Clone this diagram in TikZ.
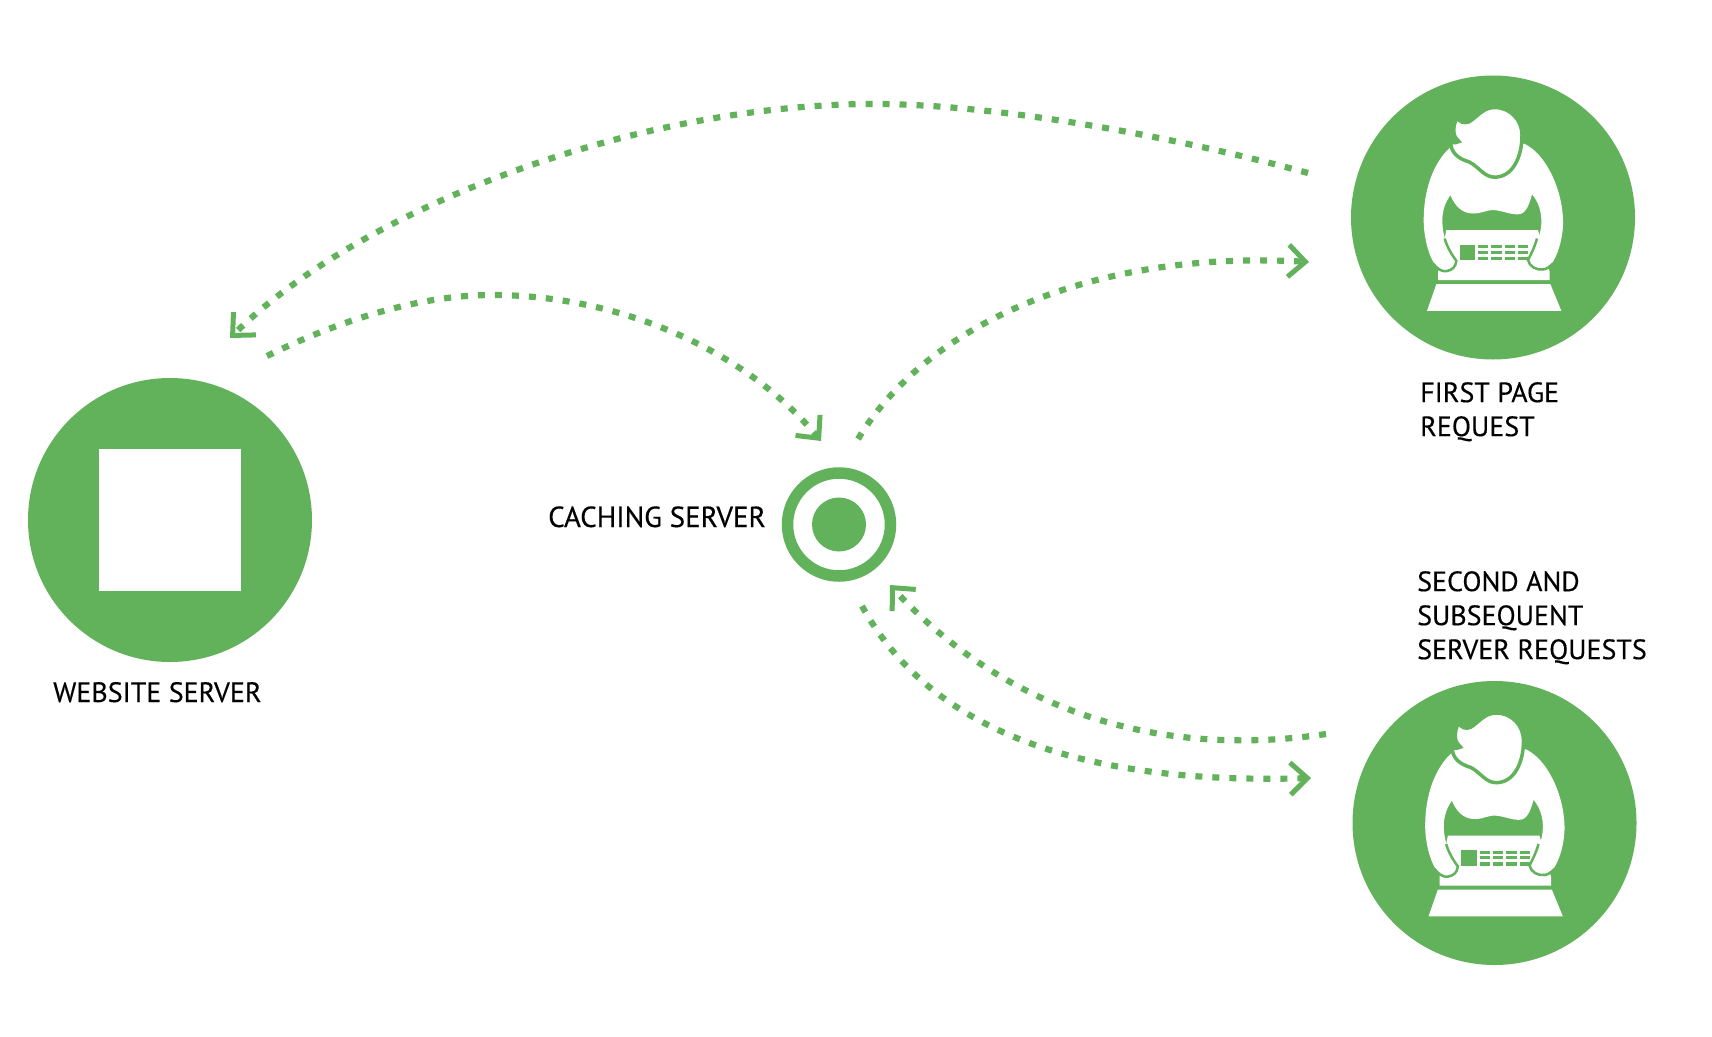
\documentclass[tikz,border=0pt]{standalone}
\usepackage{fontspec}
\setmainfont{PT Sans}
\usetikzlibrary{arrows.meta}
\definecolor{leaf}{RGB}{98,178,92}
\tikzset{
  x=1pt,y=-1pt,
  disc/.style={circle,fill=leaf,draw=none,inner sep=0pt,minimum size=284pt},
  whitebox/.style={rectangle,fill=white,draw=none,inner sep=0pt,minimum size=142pt},
  ring/.style={circle,draw=leaf,line width=11.5pt,fill=white,inner sep=0pt,minimum size=103pt,outer sep=0pt},
  core/.style={circle,fill=leaf,draw=none,inner sep=0pt,minimum size=54pt},
  caption/.style={font=\fontsize{28}{34}\selectfont\addfontfeature{FakeBold=0.35},inner sep=0pt,align=left,text=black},
  flow/.style={draw=leaf,line width=6.2pt,dash pattern=on 7pt off 10pt,
    -{Straight Barb[length=17pt,width=32pt,line width=5pt,color=leaf]}},
  person/.pic={
    \begin{scope}[scale=1/3,shift={(-520,-502)}]
      % laptop
      \fill[white] (380,540) -- (655,540) -- (690,665) -- (690,690) -- (355,690) -- (355,665) -- cycle;
      \fill[white] (350,702) -- (692,702) -- (725,782) -- (322,782) -- cycle;
      \fill[leaf] (420,583) rectangle (466,630);
      \foreach \cx in {475,515,555,595} {
        \fill[leaf] (\cx,585) rectangle ++(31,9);
        \fill[leaf] (\cx,602) rectangle ++(31,9);
        \fill[leaf] (\cx,620) rectangle ++(31,10);
      }
      % torso, arms and hands
      \fill[white]
        (390,293) .. controls (340,340) and (312,420) .. (312,510)
        .. controls (312,570) and (335,665) .. (380,663)
        .. controls (398,660) and (408,650) .. (410,632)
        .. controls (385,600) and (368,560) .. (368,510)
        .. controls (368,480) and (378,455) .. (392,435)
        .. controls (405,465) and (425,490) .. (460,490)
        .. controls (490,490) and (500,478) .. (525,480)
        .. controls (550,482) and (575,495) .. (600,492)
        .. controls (620,488) and (630,460) .. (637,432)
        .. controls (655,455) and (666,480) .. (665,520)
        .. controls (664,560) and (640,600) .. (625,630)
        .. controls (630,650) and (650,660) .. (670,658)
        .. controls (705,655) and (732,570) .. (730,510)
        .. controls (728,420) and (680,310) .. (612,280)
        -- cycle;
      % outlines of the hands on the laptop
      \draw[leaf,line width=2.5pt]
        (340,640) .. controls (352,655) and (365,665) .. (380,663)
        .. controls (398,660) and (408,650) .. (410,632)
        .. controls (395,612) and (382,590) .. (375,565);
      \draw[leaf,line width=2.5pt]
        (652,565) .. controls (645,590) and (635,610) .. (625,630)
        .. controls (630,650) and (650,660) .. (670,658)
        .. controls (680,657) and (690,650) .. (700,640);
      % head and hair
      \filldraw[fill=white,draw=leaf,line width=3.5pt]
        (412,201) .. controls (420,218) and (435,220) .. (448,215)
        .. controls (473,200) and (490,172) .. (525,172)
        .. controls (574,172) and (607,212) .. (607,255)
        .. controls (607,322) and (578,381) .. (525,381)
        .. controls (493,381) and (478,350) .. (448,335)
        .. controls (416,326) and (393,307) .. (393,276)
        .. controls (406,279) and (412,277) .. (418,274)
        .. controls (402,262) and (395,238) .. (412,201)
        -- cycle;
    \end{scope}
  }
}
\begin{document}
\begin{tikzpicture}
\useasboundingbox (0,0) rectangle (1712,1036);
% main shapes
\node[disc] (web) at (170,520) {};
\node[whitebox] (webicon) at (170,520) {};
\node[disc] (first) at (1493,217.5) {};
\pic at (1493,217.5) {person};
\node[disc] (second) at (1494.5,823) {};
\pic at (1494.5,823) {person};
\node[ring] (cache) at (839,524.5) {};
\node[core] (cachecore) at (839,524.5) {};
% captions
\node[caption,anchor=base west] (weblabel) at (53,702) {WEBSITE SERVER};
\node[caption,anchor=base west,font=\fontsize{29}{34}\selectfont\addfontfeature{FakeBold=0.35}] (cachelabel) at (548,527) {CACHING SERVER};
\node[caption,anchor=north west] (firstlabel) at (1420,382) {FIRST PAGE\\REQUEST};
\node[caption,anchor=north west] (secondlabel) at (1417,571) {SECOND AND\\SUBSEQUENT\\SERVER REQUESTS};
% connector ends
\coordinate (aS) at (1308,173); \coordinate (aM) at (874,104); \coordinate (aE) at (230,338);
\coordinate (bS) at (267,356);  \coordinate (bM) at (492,295); \coordinate (bE) at (821,441);
\coordinate (cS) at (858,439);  \coordinate (cE) at (1309,262);
\coordinate (dS) at (1326,734); \coordinate (dE) at (890,585);
\coordinate (eS) at (862,606);  \coordinate (eE) at (1311,778);
% connectors
\draw[flow] (aS) .. controls (1180,138) and (1000,104) .. (aM) .. controls (640,104) and (365,205) .. (aE);
\draw[flow] (bS) .. controls (340,320) and (420,295) .. (bM) .. controls (620,295) and (745,350) .. (bE);
\draw[flow] (cS) .. controls (930,320) and (1100,250) .. (cE);
\draw[flow] (dS) .. controls (1150,760) and (1000,705) .. (dE);
\draw[flow] (eS) .. controls (930,730) and (1080,785) .. (eE);
\end{tikzpicture}
\end{document}
